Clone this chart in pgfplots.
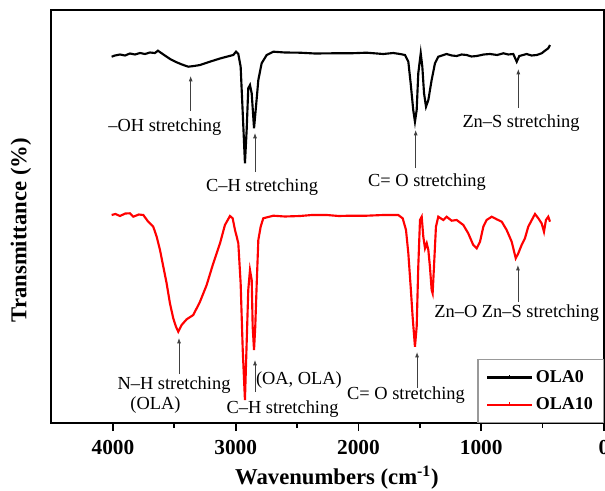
\documentclass[border=0pt]{standalone}
\usepackage{fontspec}
\setmainfont{Liberation Serif}
\usepackage{pgfplots}
\pgfplotsset{compat=1.18}
\usetikzlibrary{arrows.meta}

\pgfplotstableread{
wn y
4011 366.3
3984 367.5
3943 368.5
3902 367.5
3862 369.5
3821 368.5
3780 370
3739 369
3699 370.5
3658 370
3634 372.3
3601 369.5
3563 366.3
3528 363.5
3481 360.7
3438 358.5
3387 356.3
3340 357
3291 358
3243 360
3185 362.3
3128 364.5
3074 366.3
3020 368
2998 371.3
2979 369
2960 356.3
2943 310
2925 259.7
2911 293
2898 334.7
2884 338
2870 329.7
2851 294.7
2835 316.3
2816 343
2789 359.7
2748 368
2694 371.3
2599 370.5
2477 370.3
2354 369.5
2208 369.7
2069 369.7
1933 370.3
1798 369
1717 370
1662 369
1621 368
1594 361.3
1575 339.7
1554 313
1540 301.3
1526 313
1513 349.7
1493 369.7
1480 356.3
1466 329.7
1450 316.3
1431 323
1404 343
1377 359.7
1350 366.3
1282 369
1240 367.5
1200 367
1160 368.5
1119 368
1080 366.5
1037 367
980 368.5
929 369
870 368
820 369.7
780 368.5
739 369
711 361.3
690 367
630 369
590 367.5
548 368
508 369.7
481 372.3
454 374.7
440 378
}\olazero

\pgfplotstableread{
wn y
4011 208
3980 209
3943 207
3900 209.5
3862 209.7
3835 206.3
3790 208.5
3753 208
3713 201.3
3672 196.3
3644 186.3
3617 173
3590 156.3
3563 139.7
3536 119.7
3509 104.7
3487 96.3
3468 91.3
3441 98
3400 103.7
3346 108
3291 121.3
3237 138
3183 159.7
3128 179.7
3088 198
3047 207
3025 204.7
3006 193
2992 186.3
2979 179.7
2960 139.7
2943 73
2925 23
2898 133
2884 153
2870 143
2862 96.3
2851 73
2841 96.3
2829 139.7
2816 183
2797 196.3
2776 204.7
2694 207.3
2600 206.5
2477 207
2380 208
2259 208
2160 207
2069 207.3
1933 207.3
1798 208
1676 208
1640 204.7
1613 193
1594 169.7
1575 136.3
1559 106.3
1540 76.3
1526 96.3
1513 156.3
1499 203
1485 206.3
1472 186.3
1458 174.7
1444 179.7
1431 173
1418 156.3
1404 133
1396 129.7
1385 156.3
1369 196.3
1350 206.3
1309 203
1282 206.3
1241 202.3
1200 203
1146 198
1106 189.7
1065 178
1037 174.7
1010 181.3
983 196.3
956 203
915 206.3
874 203.7
833 201.3
793 193
752 181.3
719 164.7
698 169.7
671 178
644 184.7
617 196.3
581 204.7
562 209
535 204.7
508 199.7
489 191.3
473 203
454 206.3
440 201.3
}\olaten

\begin{document}
\begin{tikzpicture}
\begin{axis}[
  name=ax,
  scale only axis,
  width=414.75pt, height=309.75pt,
  x dir=reverse,
  xmin=0, xmax=4505,
  ymin=0, ymax=413,
  clip=false,
  axis line style={line width=1.6pt},
  every tick/.style={line width=1.3pt, black},
  tick align=outside,
  xtick pos=bottom,
  xtick={0,1000,2000,3000,4000},
  minor xtick={500,1500,2500,3500},
  major tick length=6pt,
  minor tick length=3.75pt,
  ytick=\empty,
  /pgf/number format/assume math mode=true,
  /pgf/number format/set thousands separator={},
  xticklabel style={font=\bfseries\fontsize{16}{18}\selectfont, yshift=-3.5pt},
  xlabel={Wavenumbers (cm\textsuperscript{-1})},
  ylabel={Transmittance (\%)},
  xlabel style={font=\bfseries\fontsize{17}{19}\selectfont, at={(axis description cs:0.517,-0.133)}, anchor=center},
  ylabel style={font=\bfseries\fontsize{17}{19}\selectfont, at={(axis description cs:-0.0542,0.467)}, anchor=center},
  legend cell align=left,
  legend style={at={(rel axis cs:1,0)}, anchor=south east, draw=gray!80, line width=0.8pt,
    font=\bfseries\fontsize{13.5}{15}\selectfont, row sep=6pt, inner xsep=6pt, inner ysep=6pt},
  legend image code/.code={
    \draw[#1, line width=1.6pt] (0pt,0pt) -- (33.75pt,0pt);
    \draw[#1, line width=0.8pt] (17pt,0pt) -- (17pt,1.8pt);
  },
]
\addplot[black, line width=1.6pt] table[x=wn, y=y] {\olazero};
\addlegendentry{OLA0}
\addplot[red, line width=1.6pt] table[x=wn, y=y] {\olaten};
\addlegendentry{OLA10}

\begin{scope}[every node/.style={font=\fontsize{13.8}{16}\selectfont, inner sep=0pt}]
% black annotations
\node at (axis cs:3577,296) {–OH stretching};
\node at (axis cs:2786,236) {C–H stretching};
\node at (axis cs:1442,241) {C= O stretching};
\node at (axis cs:676,300) {Zn–S stretching};
% red annotations
\node at (axis cs:3503,38) {N–H stretching};
\node at (axis cs:3654,18) {(OLA)};
\node at (axis cs:2485,43) {(OA, OLA)};
\node at (axis cs:2619,14) {C–H stretching};
\node at (axis cs:1613,28) {C= O stretching};
\node at (axis cs:711,110) {Zn–O Zn–S stretching};
\end{scope}

\begin{scope}[black!75, line width=0.6pt, -{Latex[length=4pt,width=3pt]}]
\draw (axis cs:3367,312) -- (axis cs:3367,347);
\draw (axis cs:2843,251) -- (axis cs:2843,290);
\draw (axis cs:1534,255) -- (axis cs:1534,293);
\draw (axis cs:698,315) -- (axis cs:698,354);
\draw (axis cs:3462,49) -- (axis cs:3462,85);
\draw (axis cs:2843,31) -- (axis cs:2843,63);
\draw (axis cs:1523,35) -- (axis cs:1523,71);
\draw (axis cs:701,121) -- (axis cs:701,158);
\end{scope}
\end{axis}
\pgfresetboundingbox
\path[use as bounding box] ([xshift=-38.25pt,yshift=-50.25pt]ax.south west) rectangle ([xshift=0.75pt,yshift=7.5pt]ax.north east);
\end{tikzpicture}
\end{document}
